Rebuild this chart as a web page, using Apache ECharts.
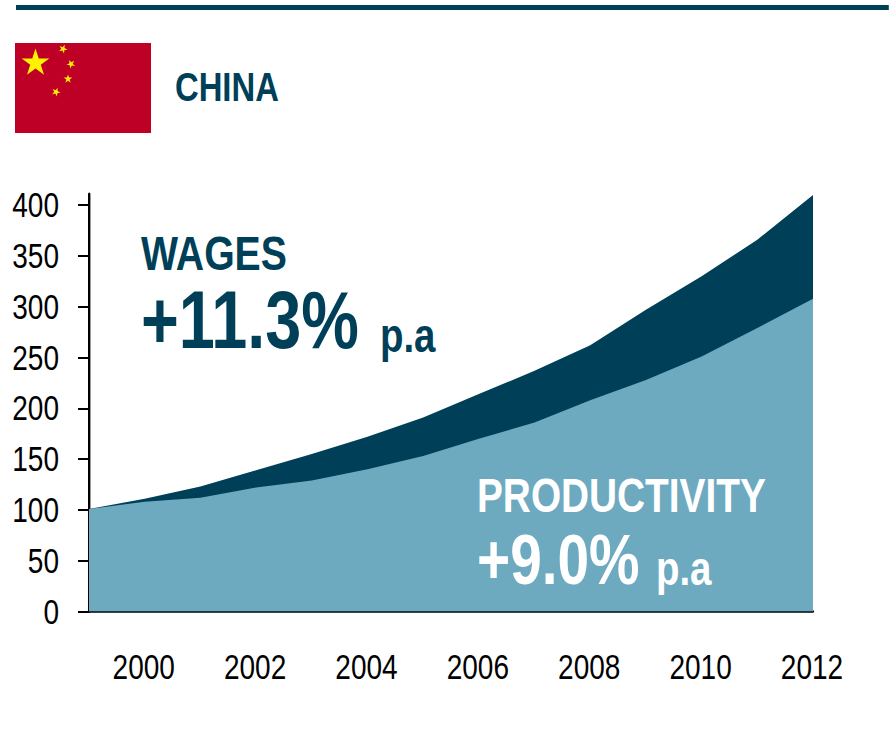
<!DOCTYPE html>
<html>
<head>
<meta charset="utf-8">
<style>
html,body{margin:0;padding:0;background:#fff;overflow:hidden}
#wrap{width:889px;height:731px;overflow:hidden}
/* The artwork uses condensed type, so the whole drawing is narrowed horizontally */
#c{width:1111.25px;height:731px;transform:scaleX(0.8);transform-origin:0 0}
</style>
<script src="https://cdn.jsdelivr.net/npm/echarts@6/dist/echarts.min.js"></script>
</head>
<body>
<div id="wrap"><div id="c"></div></div>
<script>
// Wage and productivity indices for China, 1999 to 2012
const years = [1999,2000,2001,2002,2003,2004,2005,2006,2007,2008,2009,2010,2011,2012];
const wages = [101,111,123,139,155,172,191,214,237,262,297,330,366,410];
const productivity = [101,108,112,122,129,140,153,170,186,208,228,251,279,308];
const yTicks = [0,50,100,150,200,250,300,350,400];
const xTicks = [2000,2002,2004,2006,2008,2010,2012];

const NAVY = '#003f58', TEAL = '#6daabf', RED = '#be0027', GOLD = '#fff200';
const FONT = '"Liberation Sans",Arial,sans-serif';
const NARROW = 0.8;
const sx = x => x / NARROW;   // page x to drawing x

const pair = (xs, ys) => xs.map((x, i) => [x, ys[i]]);

// Five-pointed star, round on the page once the drawing is narrowed
function star(cx, cy, r, rot) {
  const pts = [];
  for (let i = 0; i < 10; i++) {
    const rad = i % 2 ? r * 0.382 : r;
    const a = -Math.PI / 2 + rot + i * Math.PI / 5;
    pts.push([sx(cx + rad * Math.cos(a)), cy + rad * Math.sin(a)]);
  }
  return { type: 'polygon', z: 10, shape: { points: pts }, style: { fill: GOLD } };
}

function label(x, y, text, size, fill) {
  return {
    type: 'text', x: sx(x), y, z: 10,
    style: { text, font: 'bold ' + size + 'px ' + FONT, fill, textVerticalAlign: 'middle' }
  };
}

const chart = echarts.init(document.getElementById('c'), null, { renderer: 'svg' });
chart.setOption({
  backgroundColor: '#fff',
  animation: false,
  grid: { left: sx(89), top: 194, width: sx(724), height: 417.5 },
  xAxis: {
    type: 'value', min: 1999, max: 2012,
    axisLine: { onZero: false, lineStyle: { color: '#000', width: 2.5 } },
    axisTick: { show: false },
    splitLine: { show: false },
    axisLabel: {
      customValues: xTicks, margin: 38, color: '#000', fontSize: 35,
      fontFamily: FONT, padding: [0, 2.5, 0, 0], formatter: v => String(v)
    }
  },
  yAxis: {
    type: 'value', min: 0, max: 411,
    axisLine: { show: true, lineStyle: { color: '#000', width: 3 } },
    axisTick: { show: true, length: sx(11), customValues: yTicks, lineStyle: { color: '#000', width: 2 } },
    splitLine: { show: false },
    axisLabel: {
      customValues: yTicks, margin: sx(30), color: '#000', fontSize: 35,
      fontFamily: FONT, padding: [4, 0, 0, 0]
    }
  },
  series: [
    { name: 'Wages', type: 'line', data: pair(years, wages), symbol: 'none',
      lineStyle: { width: 0 }, areaStyle: { color: NAVY, opacity: 1 }, z: 1 },
    { name: 'Productivity', type: 'line', data: pair(years, productivity), symbol: 'none',
      lineStyle: { width: 0 }, areaStyle: { color: TEAL, opacity: 1 }, z: 2 }
  ],
  graphic: { elements: [
    { type: 'rect', z: 10, shape: { x: sx(16), y: 5, width: sx(873), height: 5 }, style: { fill: NAVY } },
    { type: 'rect', z: 10, shape: { x: sx(15), y: 43, width: sx(136), height: 90 }, style: { fill: RED } },
    star(35.5, 63, 14.5, 0),
    star(63, 49, 4.5, 0.4),
    star(71, 64, 4.5, 0.8),
    star(68, 79, 4.5, 0),
    star(56, 92, 4.5, 0.4),
    label(175, 87, 'CHINA', 41, NAVY),
    label(141, 253, 'WAGES', 49, NAVY),
    label(141, 320, '+11.3%', 81, NAVY),
    label(380, 335, 'p.a', 48, NAVY),
    label(477, 495, 'PRODUCTIVITY', 48.5, '#fff'),
    label(477, 560, '+9.0%', 71, '#fff'),
    label(656, 568, 'p.a', 48, '#fff')
  ] }
});
</script>
</body>
</html>
